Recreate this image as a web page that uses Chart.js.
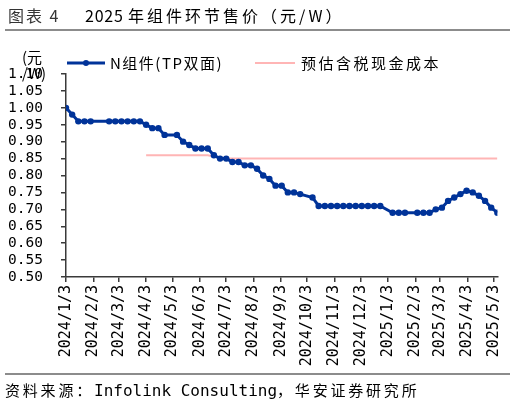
<!DOCTYPE html>
<html><head><meta charset="utf-8">
<script src="https://cdn.jsdelivr.net/npm/chart.js@4.4.0/dist/chart.umd.min.js"></script>
<style>
html,body{margin:0;padding:0;background:#fff;}
#wrap{position:relative;width:515px;height:406px;overflow:hidden;background:#fff;}
canvas{position:absolute;left:0;top:0;}
.t{position:absolute;white-space:nowrap;color:#000;line-height:20px;}
.cn{font-family:"Noto Sans CJK SC";}
.mono{font-family:"DejaVu Sans Mono";}
.rule{position:absolute;left:5px;width:505px;background:#8c8c8c;}
</style></head><body>
<div id="wrap">
<canvas id="c" width="515" height="406"></canvas>
<div class="t cn" style="left:8px;top:5px;font-size:16px;letter-spacing:2px;color:#333;">图表 4</div>
<div class="t" style="left:85px;top:5px;font-size:16px;color:#000;"><span class="cn" style="letter-spacing:0.8px;">2025 </span><span class="cn" style="letter-spacing:3px;">年组件环节售价（元/W）</span></div>
<div class="rule" style="top:29px;height:2px;"></div>
<div class="rule" style="top:373px;height:1.5px;"></div>
<div class="t" style="left:5px;top:380px;font-size:15px;"><span class="cn" style="letter-spacing:2.8px;">资料来源：</span><span class="mono" style="font-size:16px;">Infolink Consulting</span><span class="cn" style="letter-spacing:2.8px;">，华安证券研究所</span></div>
</div>
<script>
// ---- data ----
const dates = ['2024/1/3','2024/1/10','2024/1/17','2024/1/24','2024/1/31','2024/2/21','2024/2/28','2024/3/6','2024/3/13','2024/3/20','2024/3/27',
 '2024/4/3','2024/4/10','2024/4/17','2024/4/24','2024/5/8','2024/5/15','2024/5/22','2024/5/29','2024/6/5','2024/6/12','2024/6/19','2024/6/26',
 '2024/7/3','2024/7/10','2024/7/17','2024/7/24','2024/7/31','2024/8/7','2024/8/14','2024/8/21','2024/8/28','2024/9/4','2024/9/11','2024/9/18','2024/9/25',
 '2024/10/9','2024/10/16','2024/10/23','2024/10/30','2024/11/6','2024/11/13','2024/11/20','2024/11/27','2024/12/4','2024/12/11','2024/12/18','2024/12/25',
 '2025/1/8','2025/1/15','2025/1/22','2025/2/5','2025/2/12','2025/2/19','2025/2/26','2025/3/5','2025/3/12','2025/3/19','2025/3/26','2025/4/2','2025/4/9',
 '2025/4/16','2025/4/23','2025/4/30','2025/5/7'];
const nPrice = [1.00,0.98,0.96,0.96,0.96,0.96,0.96,0.96,0.96,0.96,0.96,
 0.95,0.94,0.94,0.92,0.92,0.90,0.89,0.88,0.88,0.88,0.86,0.85,
 0.85,0.84,0.84,0.83,0.83,0.82,0.80,0.79,0.77,0.77,0.75,0.75,0.745,
 0.735,0.71,0.71,0.71,0.71,0.71,0.71,0.71,0.71,0.71,0.71,0.71,
 0.69,0.69,0.69,0.69,0.69,0.69,0.70,0.705,0.725,0.735,0.745,0.755,0.75,
 0.74,0.725,0.705,0.69];
const costPrice = [null,null,null,null,null,null,null,null,null,null,null,
 0.86,0.86,0.86,0.86,0.86,0.86,0.86,0.86,0.86,0.86,0.856,0.853,
 0.85,0.85,0.85,0.85,0.85,0.85,0.85,0.85,0.85,0.85,0.85,0.85,0.85,
 0.85,0.85,0.85,0.85,0.85,0.85,0.85,0.85,0.85,0.85,0.85,0.85,
 0.85,0.85,0.85,0.85,0.85,0.85,0.85,0.85,0.85,0.85,0.85,0.85,0.85,
 0.85,0.85,0.85,0.85];
const seriesNames = ['N组件(TP双面)','预估含税现金成本'];
const xTickLabels = ['2024/1/3','2024/2/3','2024/3/3','2024/4/3','2024/5/3','2024/6/3','2024/7/3','2024/8/3','2024/9/3','2024/10/3','2024/11/3','2024/12/3',
 '2025/1/3','2025/2/3','2025/3/3','2025/4/3','2025/5/3'];
const yTickLabels = ['0.50','0.55','0.60','0.65','0.70','0.75','0.80','0.85','0.90','0.95','1.00','1.05','1.10'];
const yAxisTitle = ['(元','/W)'];

// ---- helpers ----
function parseD(s){const p=s.split('/').map(Number);return Date.UTC(p[0],p[1]-1,p[2]);}
const origin = parseD(xTickLabels[0]);
function dayOf(s){return (parseD(s)-origin)/86400000;}

const BLUE='#003399', PINK='#ffb5b5', AX='#3a3a3a';

const overlay = {
  id:'overlay',
  afterDraw(chart){
    const ctx=chart.ctx; ctx.save();
    const ly=63;
    ctx.strokeStyle=BLUE; ctx.lineWidth=3;
    ctx.beginPath(); ctx.moveTo(67,ly); ctx.lineTo(105,ly); ctx.stroke();
    ctx.fillStyle=BLUE; ctx.beginPath(); ctx.arc(86,ly,3,0,Math.PI*2); ctx.fill();
    ctx.strokeStyle=PINK; ctx.lineWidth=2;
    ctx.beginPath(); ctx.moveTo(255,ly); ctx.lineTo(295,ly); ctx.stroke();
    ctx.fillStyle='#000'; ctx.textBaseline='middle'; ctx.textAlign='left';
    ctx.font='15px "Noto Sans CJK SC"';
    ctx.letterSpacing='1.5px';
    ctx.fillText(chart.data.datasets[0].label,110,ly);
    ctx.letterSpacing='2.5px';
    ctx.fillText(chart.data.datasets[1].label,301,ly);
    ctx.letterSpacing='0px';
    ctx.fillText(yAxisTitle[0],22,57);
    ctx.fillText(yAxisTitle[1],22,73);
    ctx.restore();
  }
};

new Chart(document.getElementById('c'),{
  type:'line',
  data:{datasets:[
    {label:seriesNames[0],data:dates.map((d,i)=>({x:dayOf(d),y:nPrice[i]})),
     borderColor:BLUE,backgroundColor:BLUE,borderWidth:3,pointRadius:3.2,pointBorderWidth:0,
     pointBackgroundColor:BLUE,tension:0,order:0},
    {label:seriesNames[1],data:dates.map((d,i)=>({x:dayOf(d),y:costPrice[i]})).filter(p=>p.y!==null),
     borderColor:PINK,backgroundColor:PINK,borderWidth:2,pointRadius:0,tension:0,order:1}
  ]},
  options:{
    responsive:false,animation:false,devicePixelRatio:1,
    layout:{padding:{top:74,right:17,bottom:0,left:0}},
    plugins:{legend:{display:false},tooltip:{enabled:false}},
    scales:{
      x:{type:'linear',min:0,max:dayOf(dates[dates.length-1]),
        afterBuildTicks:s=>{s.ticks=xTickLabels.map(l=>({value:dayOf(l)}));},
        afterFit:s=>{s.height=129;},
        ticks:{autoSkip:false,minRotation:90,maxRotation:90,padding:3,color:'#000',
          font:{family:'DejaVu Sans Mono',size:15},callback:(v,i)=>xTickLabels[i]},
        grid:{drawOnChartArea:false,drawTicks:true,tickLength:5,color:AX,lineWidth:1.5},
        border:{display:true,color:AX,width:1.5}
      },
      y:{type:'linear',min:0.5,max:1.1,
        afterBuildTicks:s=>{s.ticks=yTickLabels.map(l=>({value:parseFloat(l)}));},
        afterFit:s=>{s.width=66;},
        ticks:{autoSkip:false,padding:18,color:'#000',font:{family:'DejaVu Sans Mono',size:14.5},callback:(v,i)=>yTickLabels[i]},
        grid:{drawOnChartArea:false,drawTicks:true,tickLength:5,color:AX,lineWidth:1.5},
        border:{display:true,color:AX,width:1.5}
      }
    }
  },
  plugins:[overlay]
});
</script>
</body></html>
